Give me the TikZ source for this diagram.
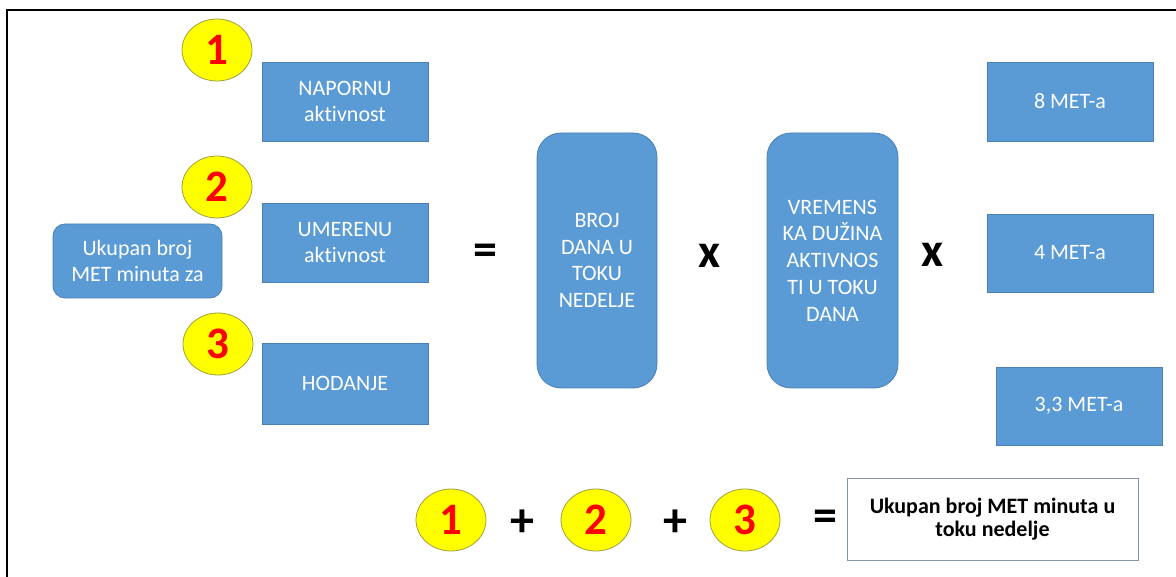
\documentclass[tikz,border=0pt]{standalone}
\usepackage{fontspec}
\setmainfont{Carlito}[Ligatures=NoCommon]
\usetikzlibrary{shapes.geometric}
\definecolor{boxblue}{HTML}{5B9BD5}
\definecolor{boxedge}{HTML}{4A80B5}
\definecolor{circyellow}{HTML}{FFFF00}
\definecolor{circedge}{HTML}{A0A040}
\definecolor{numred}{HTML}{FF0000}
\definecolor{resedge}{HTML}{8497B0}
\tikzset{
  bluebox/.style={draw=boxedge, line width=0.8pt, fill=boxblue, text=white, inner sep=0pt, align=center,
    font=\fontsize{22}{25.5}\selectfont},
  tallbox/.style={bluebox, rounded corners=24pt, minimum width=120pt, minimum height=255pt,
    font=\fontsize{22}{26.7}\selectfont},
  numcirc/.style={ellipse, draw=circedge, line width=0.8pt, fill=circyellow, inner sep=0pt,
    minimum width=70pt, minimum height=62pt, text=numred, font=\bfseries\fontsize{45}{45}\selectfont},
  oper/.style={inner sep=0pt, text=black, font=\bfseries\fontsize{48}{48}\selectfont},
  resbox/.style={draw=resedge, line width=0.8pt, fill=white, inner sep=0pt, align=center,
    minimum width=291pt, minimum height=82pt, font=\bfseries\fontsize{22}{23.5}\selectfont},
}
\begin{document}
\begin{tikzpicture}[x=1pt,y=-1pt]
\useasboundingbox (0,0) rectangle (1176,577);
\fill[white] (0,0) rectangle (1176,577);
\coordinate (bl) at (7,578);
\coordinate (tl) at (7,10);
\coordinate (tr) at (1177,10);
\draw[line width=2.2pt, black] (bl) -- (tl) -- (tr);

% left column
\node[numcirc] (c1) at (217,50) {1};
\node[numcirc] (c2) at (217,187) {2};
\node[numcirc] (c3) at (218,344) {3};
\node[bluebox, minimum width=166pt, minimum height=79pt] (napornu) at (345,101.5) {NAPORNU\\aktivnost};
\node[bluebox, minimum width=166pt, minimum height=79pt] (umerenu) at (345,242.5) {UMERENU\\aktivnost};
\node[bluebox, minimum width=166pt, minimum height=81pt] (hodanje) at (345,383.5) {HODANJE};
\node[bluebox, rounded corners=12pt, minimum width=169pt, minimum height=74pt] (ukupan) at (137.5,261) {Ukupan broj\\MET minuta za};

% middle
\node[oper] (eq1) at (485,255) {=};
\node[tallbox] (broj) at (597,260.5) {BROJ\\DANA U\\TOKU\\NEDELJE};
\node[oper] (x1) at (710,256) {x};
\node[tallbox, minimum width=131pt] (vremens) at (832.5,260.5) {VREMENS\\KA DUŽINA\\AKTIVNOS\\TI U TOKU\\DANA};
\node[oper] (x2) at (933,255) {x};

% right column
\node[bluebox, minimum width=166pt, minimum height=79pt] (met8) at (1070,101.5) {8 MET-a};
\node[bluebox, minimum width=166pt, minimum height=78pt] (met4) at (1070,253) {4 MET-a};
\node[bluebox, minimum width=166pt, minimum height=78pt] (met33) at (1079,406) {3,3 MET-a};

% bottom equation
\node[numcirc] (b1) at (451,520) {1};
\node[oper] (p1) at (522,523) {+};
\node[numcirc] (b2) at (596,520) {2};
\node[oper] (p2) at (675,523) {+};
\node[numcirc] (b3) at (745,520) {3};
\node[oper] (eq2) at (825,521) {=};
\node[resbox] (res) at (992.5,519) {Ukupan broj MET minuta u\\toku nedelje};
\end{tikzpicture}
\end{document}
